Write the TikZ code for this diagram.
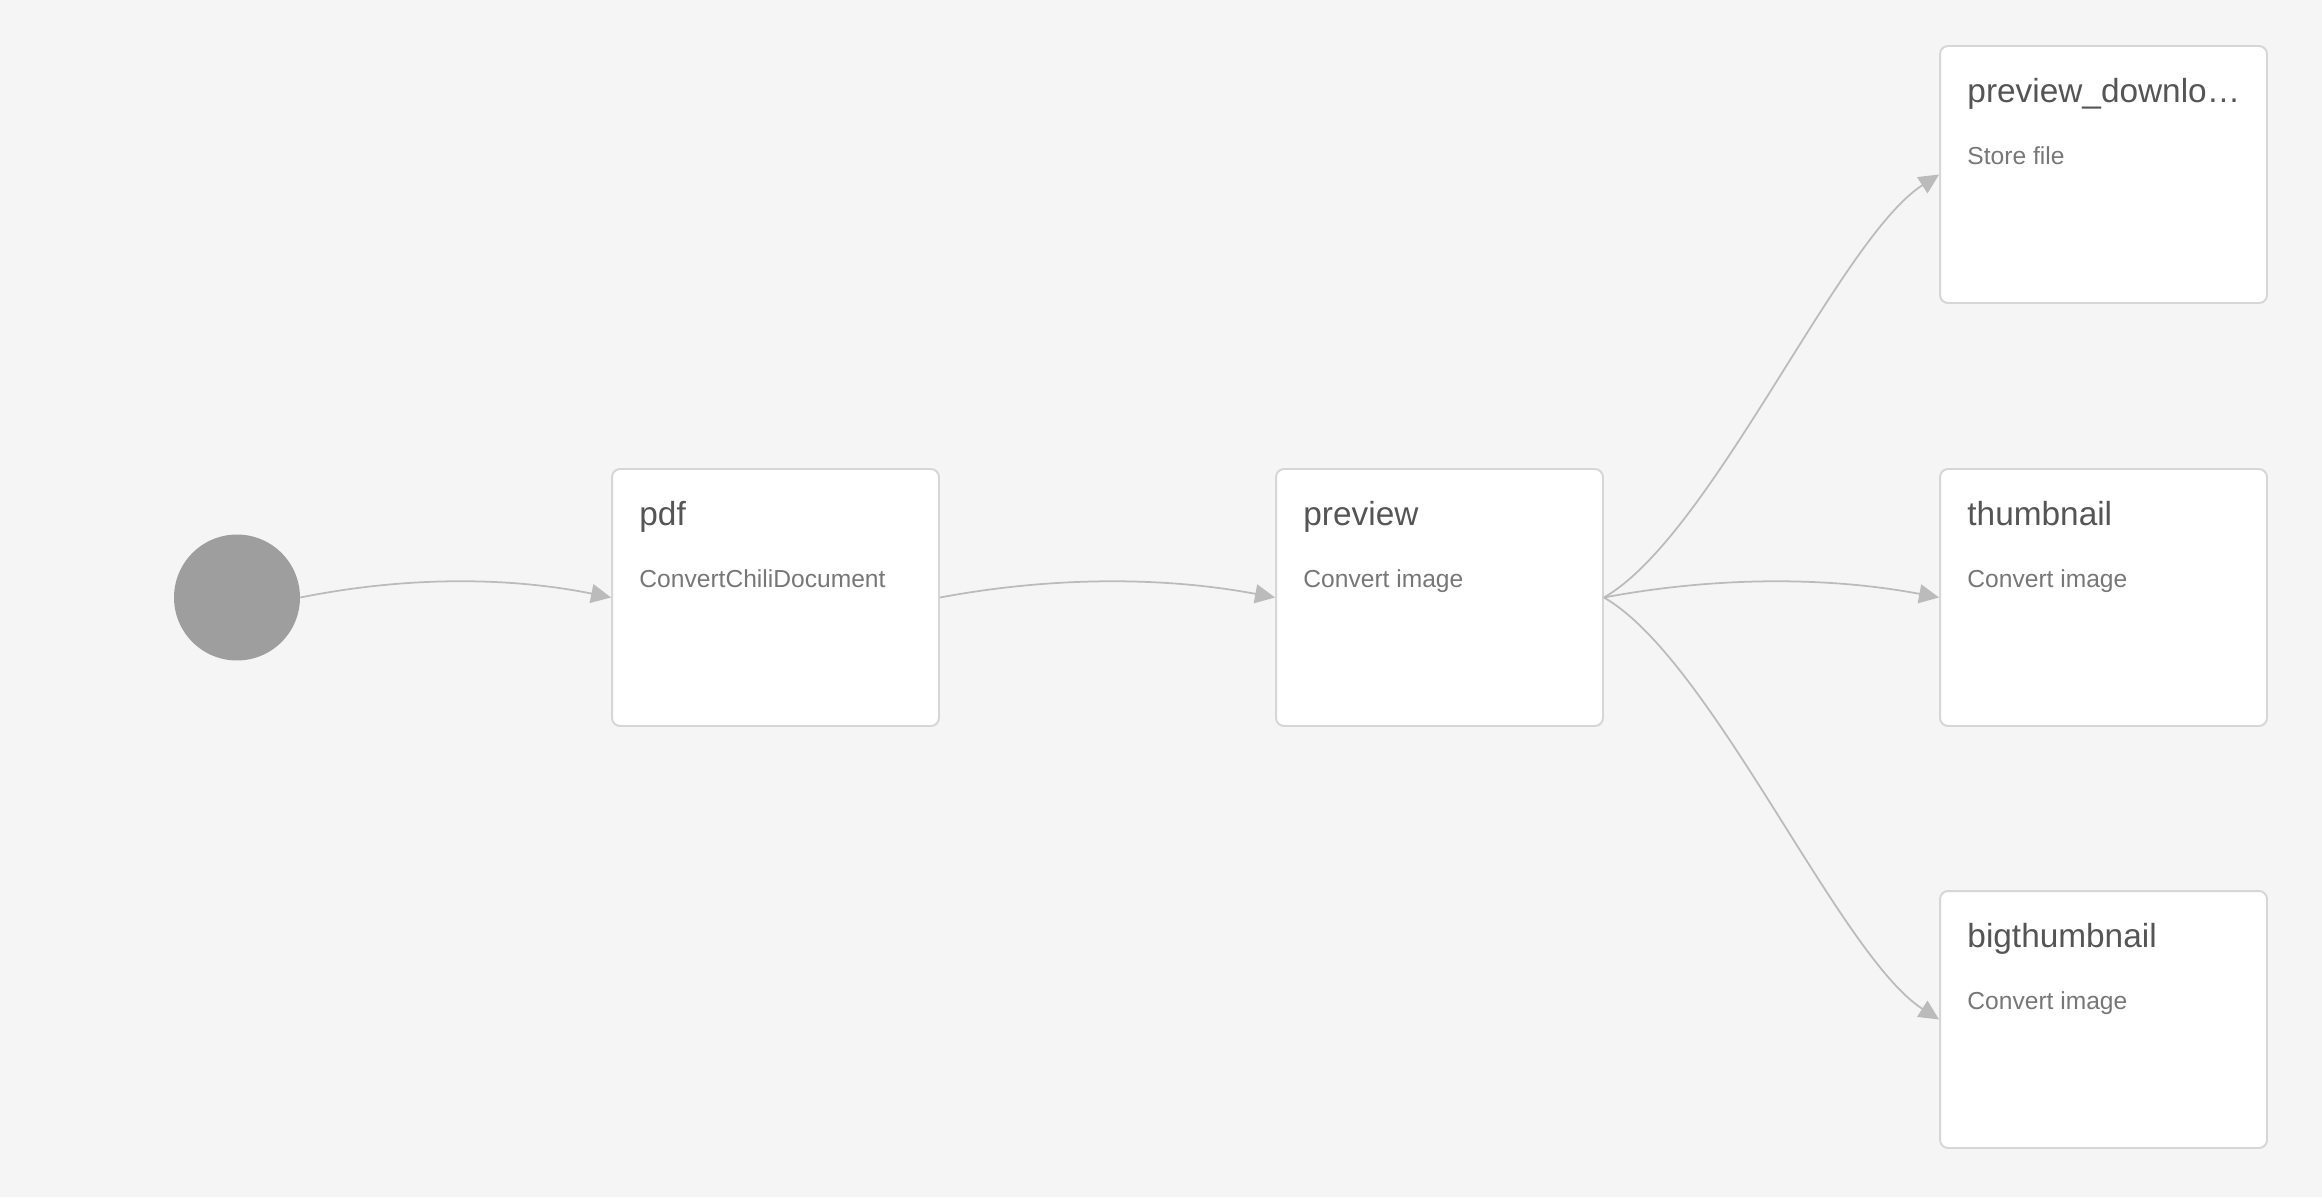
\documentclass[tikz,border=0pt]{standalone}
\usepackage{fontspec}
\setmainfont{Liberation Sans}
\usetikzlibrary{arrows.meta}
\definecolor{bg}{HTML}{F5F5F5}
\definecolor{boxline}{HTML}{D6D6D6}
\definecolor{edgecol}{HTML}{BBBBBB}
\definecolor{titlecol}{HTML}{555555}
\definecolor{subcol}{HTML}{777777}
\definecolor{startcol}{HTML}{9E9E9E}
\begin{document}
\begin{tikzpicture}[x=0.02cm,y=-0.02cm,
  task/.style={draw=boxline,line width=1.1pt,fill=white,rounded corners=0.16cm,
    minimum width=6.54cm,minimum height=5.14cm,inner sep=0pt},
  tasktitle/.style={anchor=base west,inner sep=0pt,text=titlecol,font=\fontsize{19pt}{22pt}\selectfont},
  tasksub/.style={anchor=base west,inner sep=0pt,text=subcol,font=\fontsize{14pt}{16pt}\selectfont},
  edge/.style={draw=edgecol,line width=1pt,-{Triangle[length=0.4cm,width=0.38cm]}},
  startnode/.style={circle,fill=startcol,minimum size=2.52cm,inner sep=0pt}]
\path[fill=bg,use as bounding box] (0,0) rectangle (2322,1197);

\node[startnode] (start) at (237,597.5) {};
\node[task] (pdf) at (775.5,597.5) {};
\node[task] (preview) at (1439.5,597.5) {};
\node[task] (pd) at (2103.5,174.5) {};
\node[task] (thumb) at (2103.5,597.5) {};
\node[task] (big) at (2103.5,1019.5) {};

\node[tasktitle] (pdft) at ([shift={(28,57)}]pdf.north west) {pdf};
\node[tasksub] (pdfs) at ([shift={(28,119)}]pdf.north west) {ConvertChiliDocument};
\node[tasktitle] (previewt) at ([shift={(28,57)}]preview.north west) {preview};
\node[tasksub] (previews) at ([shift={(28,119)}]preview.north west) {Convert image};
\node[tasktitle] (pdt) at ([shift={(28,57)}]pd.north west) {preview\_downlo…};
\node[tasksub] (pds) at ([shift={(28,119)}]pd.north west) {Store file};
\node[tasktitle] (thumbt) at ([shift={(28,57)}]thumb.north west) {thumbnail};
\node[tasksub] (thumbs) at ([shift={(28,119)}]thumb.north west) {Convert image};
\node[tasktitle] (bigt) at ([shift={(28,57)}]big.north west) {bigthumbnail};
\node[tasksub] (bigs) at ([shift={(28,119)}]big.north west) {Convert image};

\draw[edge] (start.east) .. controls +(104,-21) and +(-104,-21) .. (pdf.west);
\draw[edge] (pdf.east) .. controls +(112,-21) and +(-112,-21) .. (preview.west);
\draw[edge] (preview.east) .. controls +(112,-21) and +(-112,-21) .. (thumb.west);
\draw[edge] (preview.east) .. controls +(108,-62) and +(-100,64) .. (pd.west);
\draw[edge] (preview.east) .. controls +(108,62) and +(-100,-64) .. (big.west);
\end{tikzpicture}
\end{document}
